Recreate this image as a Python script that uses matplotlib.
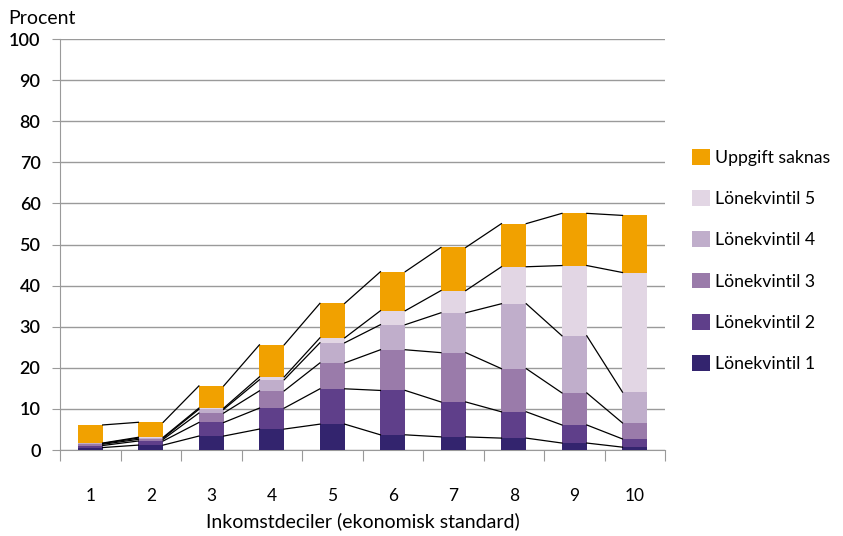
import matplotlib.pyplot as plt
import numpy as np
from matplotlib.patches import Patch

plt.rcParams['font.family'] = ['Lato', 'DejaVu Sans']

deciler = ['1', '2', '3', '4', '5', '6', '7', '8', '9', '10']

# andel i procent per lönekvintil
l1 = [0.6, 1.2, 3.4, 5.1, 6.3, 3.7, 3.2, 2.9, 1.7, 0.7]
l2 = [0.5, 1.0, 3.3, 5.1, 8.6, 10.8, 8.5, 6.4, 4.4, 2.0]
l3 = [0.3, 0.4, 2.3, 4.2, 6.3, 9.9, 12.0, 10.5, 7.8, 3.9]
l4 = [0.2, 0.3, 0.9, 2.7, 4.9, 6.1, 9.7, 15.8, 13.9, 7.5]
l5 = [0.1, 0.2, 0.3, 0.7, 1.2, 3.4, 5.4, 9.0, 17.1, 29.1]
saknas = [4.4, 3.65, 5.4, 7.8, 8.4, 9.5, 10.5, 10.5, 12.7, 13.9]

serier = [l1, l2, l3, l4, l5, saknas]
namn = ['Lönekvintil 1', 'Lönekvintil 2', 'Lönekvintil 3',
        'Lönekvintil 4', 'Lönekvintil 5', 'Uppgift saknas']
farger = ['#33246e', '#5f3f8a', '#9a7baa', '#c0aecb', '#e2d6e4', '#f1a100']

fig = plt.figure(figsize=(8.43, 5.36), dpi=100)
ax = fig.add_axes([0.0712, 0.1604, 0.7178, 0.7666])

x = np.arange(len(deciler))
w = 0.41
botten = np.zeros(len(deciler))
for vals, f in zip(serier, farger):
    ax.bar(x, vals, w, bottom=botten, color=f, zorder=3)
    botten = botten + np.array(vals)
    # serielinjer mellan staplarna
    for i in range(len(x) - 1):
        ax.plot([x[i] + w / 2, x[i + 1] - w / 2], [botten[i], botten[i + 1]],
                color='black', lw=0.9, zorder=4)

ax.set_xlim(-0.5, 9.5)
ax.set_ylim(0, 100)
ax.set_yticks(range(0, 101, 10))
ax.yaxis.grid(True, color='#9a9a9a', lw=1, zorder=0)
ax.tick_params(axis='y', length=6, color='#9a9a9a', labelsize=13, pad=8)
for t in ax.get_yticklabels():
    t.set_fontweight('semibold')

ax.set_xticks(np.arange(-0.5, 10, 1))
ax.set_xticklabels([])
ax.set_xticks(x, minor=True)
ax.set_xticklabels(deciler, minor=True, fontsize=12.5)
ax.tick_params(axis='x', which='major', length=8, color='#9a9a9a')
ax.tick_params(axis='x', which='minor', length=0, pad=27)
ax.set_xlabel('Inkomstdeciler (ekonomisk standard)', fontsize=14, labelpad=6)

for s in ['top', 'right']:
    ax.spines[s].set_visible(False)
for s in ['left', 'bottom']:
    ax.spines[s].set_color('#9a9a9a')

fig.text(0.01, 0.965, 'Procent', fontsize=14, va='center')

handles = [Patch(facecolor=f, label=n) for f, n in zip(farger, namn)][::-1]
fig.legend(handles=handles, loc='upper left', bbox_to_anchor=(0.802, 0.752),
           frameon=False, fontsize=12.7, labelspacing=1.38,
           handlelength=1.0, handleheight=1.0, handletextpad=0.3)

fig.savefig('out.png', dpi=100)
